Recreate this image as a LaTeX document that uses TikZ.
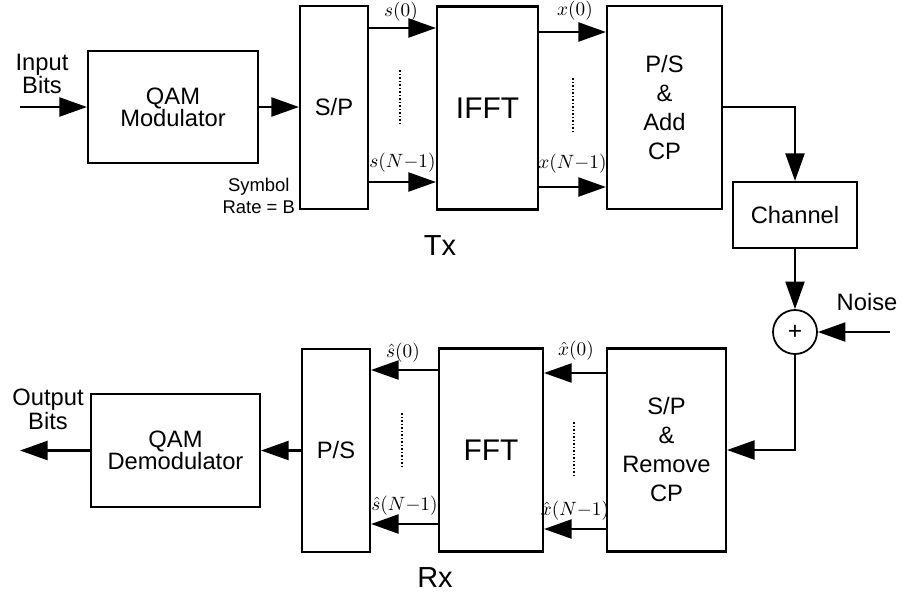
\documentclass[tikz,border=0pt]{standalone}
\usepackage{fontspec}
\setmainfont{Liberation Sans}
\usetikzlibrary{arrows.meta}

\tikzset{
  blk/.style={draw, line width=1.2pt, inner sep=0pt, align=center, font=\fontsize{13.5}{12.5}\selectfont},
  tall/.style={blk, minimum height=4.06cm, font=\fontsize{13.5}{16.5}\selectfont},
  sig/.style={inner sep=0pt, font=\fontsize{10.5}{10.5}\selectfont},
  dots/.style={line width=1.1pt, dash pattern=on 1pt off 1pt},
}

\begin{document}
\begin{tikzpicture}[>={Triangle[length=0.55cm,width=0.38cm]}, line width=1.2pt]
  \useasboundingbox (0,0) rectangle (18.04,-11.94);
  % 发送端 Tx
  \node[blk, minimum width=3.4cm, minimum height=2.24cm] (mod) at (3.46,-2.14) {QAM\\Modulator};
  \node[tall, minimum width=1.36cm] (sp) at (6.68,-2.15) {S/P};
  \node[tall, minimum width=2.02cm, font=\fontsize{17}{17}\selectfont] (ifft) at (9.75,-2.16) {IFFT};
  \node[tall, minimum width=2.3cm] (ps) at (13.29,-2.15) {P/S\\\&\\Add\\CP};
  \node[blk, minimum width=2.48cm, minimum height=1.32cm] (ch) at (15.9,-4.3) {Channel};
  \node[font=\fontsize{13.5}{12.5}\selectfont, align=center] (inbits) at (0.84,-1.48) {Input\\Bits};
  \node[font=\fontsize{10.5}{12.5}\selectfont, align=center, anchor=east, inner sep=0pt] (rate) at (5.92,-3.92) {Symbol\\Rate = B};
  \node[font=\fontsize{16.5}{16.5}\selectfont] (tx) at (8.8,-4.92) {Tx};
  \coordinate (in) at (0.4,-2.14);
  \draw[->] (in) -- (mod);
  \draw[->] (mod.east) -- (mod.east -| sp.west);
  \foreach \y in {-0.56,-3.64} \draw[->] (sp.east |- 0,\y) -- (ifft.west |- 0,\y);
  \foreach \y in {-0.64,-3.74} \draw[->] (ifft.east |- 0,\y) -- (ps.west |- 0,\y);
  \node[sig] (s0) at (8.02,-0.24) {$s(0)$};
  \node[sig] (sN) at (8.05,-3.26) {$s(N{-}1)$};
  \node[sig] (x0) at (11.5,-0.22) {$x(0)$};
  \node[sig] (xN) at (11.45,-3.28) {$x(N{-}1)$};
  \draw[dots] (8.0,-1.4) -- (8.0,-2.5);
  \draw[dots] (11.46,-1.56) -- (11.46,-2.66);
  \draw[->] (ps.east |- 0,-2.14) -| (ch.north);
  % 信道与噪声
  \node[draw, circle, line width=1pt, minimum size=0.88cm, inner sep=0pt, font=\fontsize{14}{14}\selectfont] (add) at (15.9,-6.64) {+};
  \node[font=\fontsize{13.5}{13.5}\selectfont] (noise) at (17.34,-6.04) {Noise};
  \coordinate (nz) at (17.8,-6.64);
  \draw[->] (ch.south) -- (add.north);
  \draw[->] (nz) -- (add.east);
  % 接收端 Rx
  \node[tall, minimum width=2.38cm] (spr) at (13.33,-9.0) {S/P\\\&\\Remove\\CP};
  \node[tall, minimum width=2.08cm, font=\fontsize{17}{17}\selectfont] (fft) at (9.82,-9.0) {FFT};
  \node[tall, minimum width=1.36cm] (psr) at (6.72,-9.01) {P/S};
  \node[blk, minimum width=3.38cm, minimum height=2.26cm] (demod) at (3.51,-9.01) {QAM\\Demodulator};
  \node[font=\fontsize{13.5}{12.5}\selectfont, align=center] (outbits) at (0.96,-8.18) {Output\\Bits};
  \node[font=\fontsize{16.5}{16.5}\selectfont] (rx) at (8.7,-11.56) {Rx};
  \coordinate (out) at (0.4,-9.01);
  \draw[->] (add.south) |- (spr.east);
  \foreach \y in {-7.46,-10.58} \draw[->] (spr.west |- 0,\y) -- (fft.east |- 0,\y);
  \foreach \y in {-7.4,-10.48} \draw[->] (fft.west |- 0,\y) -- (psr.east |- 0,\y);
  \draw[->] (psr.west) -- (psr.west -| demod.east);
  \draw[->] (demod) -- (out);
  \node[sig] (sh0) at (8.06,-7.06) {$\hat{s}(0)$};
  \node[sig] (shN) at (8.09,-10.12) {$\hat{s}(N{-}1)$};
  \node[sig] (xh0) at (11.52,-7.02) {$\hat{x}(0)$};
  \node[sig] (xhN) at (11.5,-10.22) {$\hat{x}(N{-}1)$};
  \draw[dots] (8.04,-8.26) -- (8.04,-9.36);
  \draw[dots] (11.48,-8.44) -- (11.48,-9.54);
\end{tikzpicture}
\end{document}
